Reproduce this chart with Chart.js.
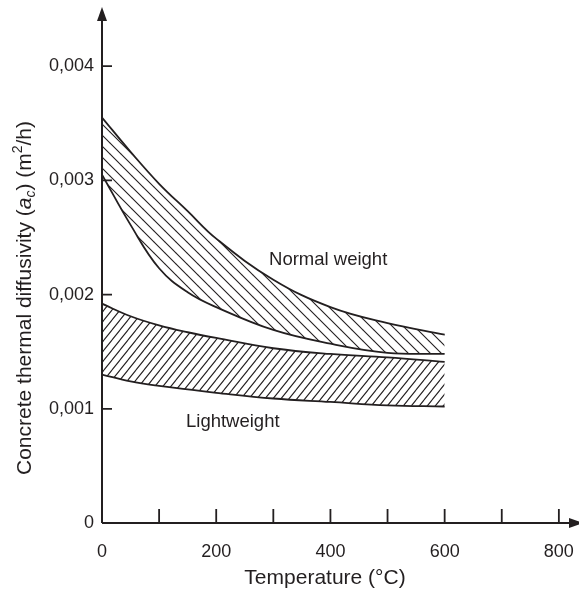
<!DOCTYPE html>
<html lang="en">
<head>
    <meta charset="UTF-8">
    <title>Concrete thermal diffusivity vs temperature</title>
    <script src="https://cdn.jsdelivr.net/npm/chart.js@4.4.0/dist/chart.umd.min.js"></script>
    <style>
        body { margin: 0; background: #fff; }
        #wrap { position: relative; width: 579px; height: 593px; }
    </style>
</head>
<body>
    <div id="wrap"><canvas id="c"></canvas></div>

    <script>
        const temps = [0, 50, 100, 150, 200, 300, 400, 500, 600];
        // normal weight concrete band (m²/h)
        const normalUpper = [0.00355, 0.00325, 0.00297, 0.00273, 0.00249, 0.00213, 0.00189, 0.00175, 0.00165];
        const normalLower = [0.00305, 0.00261, 0.00223, 0.00202, 0.00189, 0.00169, 0.00157, 0.00149, 0.00148];
        // lightweight concrete band
        const lightUpper = [0.00192, 0.00181, 0.00173, 0.00167, 0.00162, 0.00153, 0.00148, 0.00145, 0.00141];
        const lightLower = [0.00130, 0.00124, 0.00120, 0.00117, 0.00114, 0.00109, 0.00106, 0.00103, 0.00102];

        const xTicks = [0, 100, 200, 300, 400, 500, 600, 700, 800];
        const yTicks = [0, 0.001, 0.002, 0.003, 0.004];
        const bandLabels = ['Normal weight', 'Lightweight'];
        const bandLabelPos = [[396, 0.00230], [229, 0.000884]];
        const xTitle = 'Temperature (°C)';

        const ink = '#231f20';
        const fontFamily = "'Liberation Sans', Arial, Helvetica, sans-serif";
        Chart.defaults.font.family = fontFamily;
        Chart.defaults.color = ink;

        const ctx = document.getElementById('c').getContext('2d');

        // diagonal hatching for the bands; w x h tile sets the slope
        function hatch(w, h, dir) {
            const c = document.createElement('canvas');
            c.width = w; c.height = h;
            const g = c.getContext('2d');
            g.strokeStyle = ink;
            g.lineWidth = 1.1;
            g.beginPath();
            [[0, 0], [-w, 0], [w, 0], [0, -h], [0, h]].forEach(([ox, oy]) => {
                if (dir === 'down') {
                    g.moveTo(ox, oy); g.lineTo(ox + w, oy + h);
                } else {
                    g.moveTo(ox, oy + h); g.lineTo(ox + w, oy);
                }
            });
            g.stroke();
            return ctx.createPattern(c, 'repeat');
        }

        const pts = arr => temps.map((t, i) => ({ x: t, y: arr[i] }));
        const lineStyle = {
            borderColor: ink,
            borderWidth: 1.8,
            pointRadius: 0,
            tension: 0.4
        };

        const axesPlugin = {
            id: 'axes',
            afterDatasetsDraw(chart) {
                const { ctx, scales: { x, y } } = chart;
                const x0 = x.getPixelForValue(0);
                const y0 = y.getPixelForValue(0);
                ctx.save();
                ctx.strokeStyle = ink;
                ctx.fillStyle = ink;
                ctx.lineWidth = 2;
                ctx.beginPath();
                ctx.moveTo(x0, y0); ctx.lineTo(574, y0);
                ctx.moveTo(x0, y0); ctx.lineTo(x0, 18);
                ctx.stroke();
                // arrow heads
                ctx.beginPath();
                ctx.moveTo(x0, 7); ctx.lineTo(x0 - 5, 21); ctx.lineTo(x0 + 5, 21); ctx.closePath();
                ctx.fill();
                ctx.beginPath();
                ctx.moveTo(583, y0); ctx.lineTo(569, y0 - 5); ctx.lineTo(569, y0 + 5); ctx.closePath();
                ctx.fill();
                // inward tick marks
                ctx.lineWidth = 1.8;
                ctx.beginPath();
                xTicks.forEach(v => {
                    if (v === 0) return;
                    const px = x.getPixelForValue(v);
                    ctx.moveTo(px, y0); ctx.lineTo(px, y0 - 14);
                });
                yTicks.forEach(v => {
                    if (v === 0) return;
                    const py = y.getPixelForValue(v);
                    ctx.moveTo(x0, py); ctx.lineTo(x0 + 10, py);
                });
                ctx.stroke();

                // band labels
                ctx.font = '18.5px ' + fontFamily;
                ctx.textAlign = 'center';
                ctx.textBaseline = 'middle';
                bandLabels.forEach((t, i) => {
                    ctx.fillText(t, x.getPixelForValue(bandLabelPos[i][0]), y.getPixelForValue(bandLabelPos[i][1]));
                });

                // x axis title
                ctx.font = '21px ' + fontFamily;
                ctx.fillText(xTitle, 325, 578);

                // y axis title with sub/superscripts
                const parts = [
                    { t: 'Concrete thermal diffusivity (', f: '21px ' + fontFamily, dy: 0 },
                    { t: 'a', f: 'italic 21px ' + fontFamily, dy: 0 },
                    { t: 'c', f: 'italic 14px ' + fontFamily, dy: 6 },
                    { t: ') (m', f: '21px ' + fontFamily, dy: 0 },
                    { t: '2', f: '14px ' + fontFamily, dy: -7 },
                    { t: '/h)', f: '21px ' + fontFamily, dy: 0 }
                ];
                let total = 0;
                parts.forEach(p => { ctx.font = p.f; p.w = ctx.measureText(p.t).width; total += p.w; });
                ctx.translate(25, 298);
                ctx.rotate(-Math.PI / 2);
                ctx.textAlign = 'left';
                let cx = -total / 2;
                parts.forEach(p => {
                    ctx.font = p.f;
                    ctx.fillText(p.t, cx, p.dy);
                    cx += p.w;
                });
                ctx.restore();
            }
        };

        new Chart(ctx, {
            type: 'line',
            data: {
                datasets: [
                    { data: pts(normalUpper), fill: '+1', backgroundColor: hatch(11, 11, 'down'), ...lineStyle },
                    { data: pts(normalLower), fill: false, ...lineStyle },
                    { data: pts(lightUpper), fill: '+1', backgroundColor: hatch(8, 10, 'up'), ...lineStyle },
                    { data: pts(lightLower), fill: false, ...lineStyle }
                ]
            },
            options: {
                responsive: true,
                maintainAspectRatio: false,
                animation: false,
                layout: { padding: { left: 0, right: 3, top: 9, bottom: 0 } },
                plugins: {
                    legend: { display: false },
                    tooltip: { enabled: false }
                },
                scales: {
                    x: {
                        type: 'linear',
                        min: 0,
                        max: 830,
                        border: { display: false },
                        grid: { display: false, drawTicks: false },
                        afterBuildTicks: s => { s.ticks = xTicks.map(v => ({ value: v })); },
                        afterFit: s => { s.height = 70; s.paddingLeft = 0; s.paddingRight = 0; },
                        ticks: {
                            autoSkip: false,
                            maxRotation: 0,
                            padding: 18,
                            font: { size: 18 },
                            callback: v => (v % 200 === 0 ? String(v) : '')
                        }
                    },
                    y: {
                        min: 0,
                        max: 0.0045,
                        border: { display: false },
                        grid: { display: false, drawTicks: false },
                        afterBuildTicks: s => { s.ticks = yTicks.map(v => ({ value: v })); },
                        afterFit: s => { s.width = 102; s.paddingTop = 0; s.paddingBottom = 0; },
                        ticks: {
                            padding: 8,
                            font: { size: 18 },
                            callback: v => (v === 0 ? '0' : v.toFixed(3).replace('.', ','))
                        }
                    }
                }
            },
            plugins: [axesPlugin]
        });
    </script>
</body>
</html>
